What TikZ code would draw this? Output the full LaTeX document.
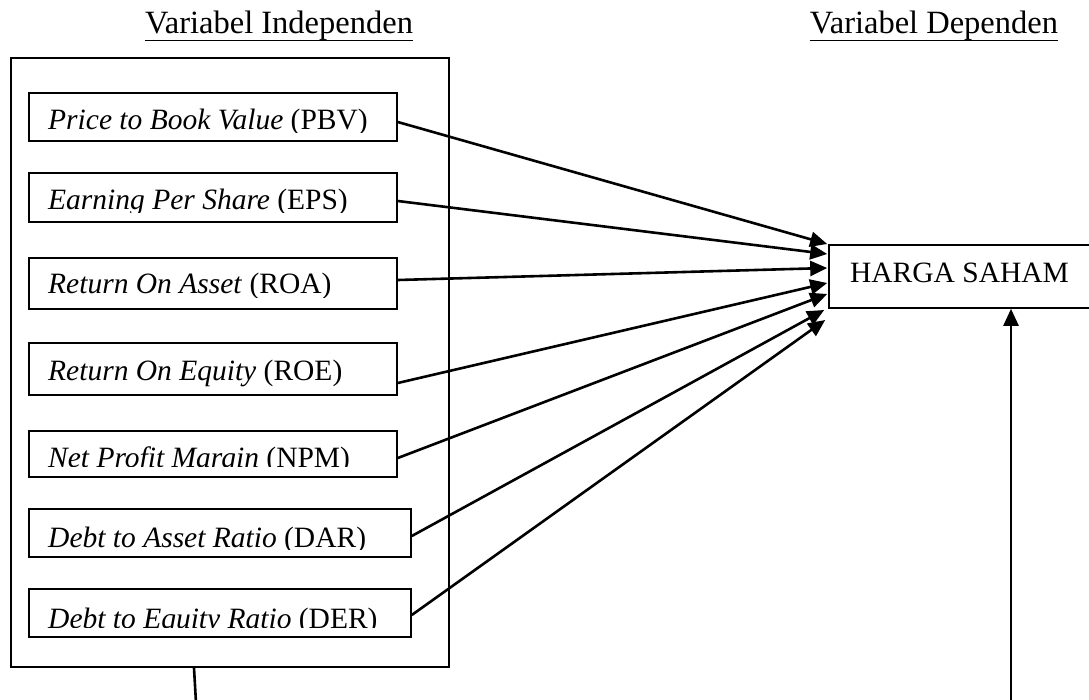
\documentclass[tikz,border=0pt]{standalone}
\usepackage{fontspec}
\setmainfont{Liberation Serif}
\usetikzlibrary{arrows.meta}
\begin{document}
\begin{tikzpicture}[x=1pt,y=-1pt,
  bigbox/.style={draw, line width=2pt, inner sep=0pt},
  varbox/.style={draw, line width=1.6pt, inner sep=0pt},
  lbl/.style={inner sep=0pt, anchor=base west, font=\fontsize{29.5}{35}\selectfont},
  ttl/.style={inner sep=0pt, anchor=base, font=\fontsize{32.5}{38}\selectfont},
  conn/.style={line width=2.6pt, -{Triangle[length=17pt,width=15pt]}},
  plain/.style={line width=2.6pt}]
\useasboundingbox (0,0) rectangle (1089,699);
\fill[white] (0,0) rectangle (1089,699);

% titles
\node[ttl] (tind) at (279,33) {Variabel Independen};
\node[ttl] (tdep) at (934,33) {Variabel Dependen};
\draw[line width=1.8pt] ([yshift=-7.5pt]tind.base west) -- ([yshift=-7.5pt]tind.base east);
\draw[line width=1.8pt] ([yshift=-7.5pt]tdep.base west) -- ([yshift=-7.5pt]tdep.base east);

% big box
\node[bigbox, minimum width=438, minimum height=609] (big) at (230,362.5) {};

% variable boxes
\node[varbox, minimum width=368, minimum height=48] (pbv) at (213,117) {};
\node[varbox, minimum width=368, minimum height=49] (eps) at (213,197.5) {};
\node[varbox, minimum width=368, minimum height=51] (roa) at (213,283.5) {};
\node[varbox, minimum width=368, minimum height=52] (roe) at (213,369) {};
\node[varbox, minimum width=368, minimum height=46] (npm) at (213,454) {};
\node[varbox, minimum width=382, minimum height=48] (dar) at (220,533) {};
\node[varbox, minimum width=382, minimum height=48] (der) at (220,613) {};

\begin{scope}
\clip (pbv.north west) rectangle ([yshift=9pt]pbv.south east);
\node[lbl] (tpbv) at (48,129) {\textit{Price to Book Value} (PBV)};
\end{scope}
\begin{scope}
\clip (eps.north west) rectangle ([yshift=10pt]eps.south east);
\node[lbl] (teps) at (48,209) {\textit{Earning Per Share} (EPS)};
\end{scope}
\begin{scope}
\clip (roa.north west) rectangle ([yshift=12pt]roa.south east);
\node[lbl] (troa) at (48,293) {\textit{Return On Asset} (ROA)};
\end{scope}
\begin{scope}
\clip (roe.north west) rectangle ([yshift=8pt]roe.south east);
\node[lbl] (troe) at (48,380) {\textit{Return On Equity} (ROE)};
\end{scope}
\begin{scope}
\clip (npm.north west) rectangle ([yshift=11pt]npm.south east);
\node[lbl] (tnpm) at (48,467) {\textit{Net Profit Margin} (NPM)};
\end{scope}
\begin{scope}
\clip (dar.north west) rectangle ([yshift=8pt]dar.south east);
\node[lbl] (tdar) at (48,547) {\textit{Debt to Asset Ratio} (DAR)};
\end{scope}
\begin{scope}
\clip (der.north west) rectangle ([yshift=10pt]der.south east);
\node[lbl] (tder) at (48,628) {\textit{Debt to Equity Ratio} (DER)};
\end{scope}

% dependent box (right edge runs off the picture)
\node[varbox, minimum width=261, minimum height=63, text height=19pt, text depth=7pt,
      font=\fontsize{29.5}{35}\selectfont] (harga) at (959.5,276.5) {HARGA SAHAM};

% connectors
\draw[conn] ([yshift=-5pt]pbv.east) -- ([xshift=-1pt,yshift=32.5pt]harga.west);
\draw[conn] ([yshift=-3.5pt]eps.east) -- ([xshift=-1pt,yshift=22.5pt]harga.west);
\draw[conn] ([yshift=3.5pt]roa.east) -- ([xshift=-1pt,yshift=8.5pt]harga.west);
\draw[conn] ([yshift=-14pt]roe.east) -- ([xshift=-1pt,yshift=-6.5pt]harga.west);
\draw[conn] ([yshift=-4pt]npm.east) -- ([xshift=-1pt,yshift=-17.5pt]harga.west);
\draw[conn] ([yshift=-3pt]dar.east) -- ([xshift=-4pt,yshift=-33.5pt]harga.west);
\draw[conn] ([yshift=-2pt]der.east) -- ([xshift=-3pt,yshift=-43.5pt]harga.west);

% lines running off the bottom
\coordinate (lowL) at (197,720);
\coordinate (lowR) at (1011,720);
\draw[plain] ([xshift=-36pt]big.south) -- (lowL);
\draw[conn] (lowR) -- (lowR |- harga.south);
\end{tikzpicture}
\end{document}
